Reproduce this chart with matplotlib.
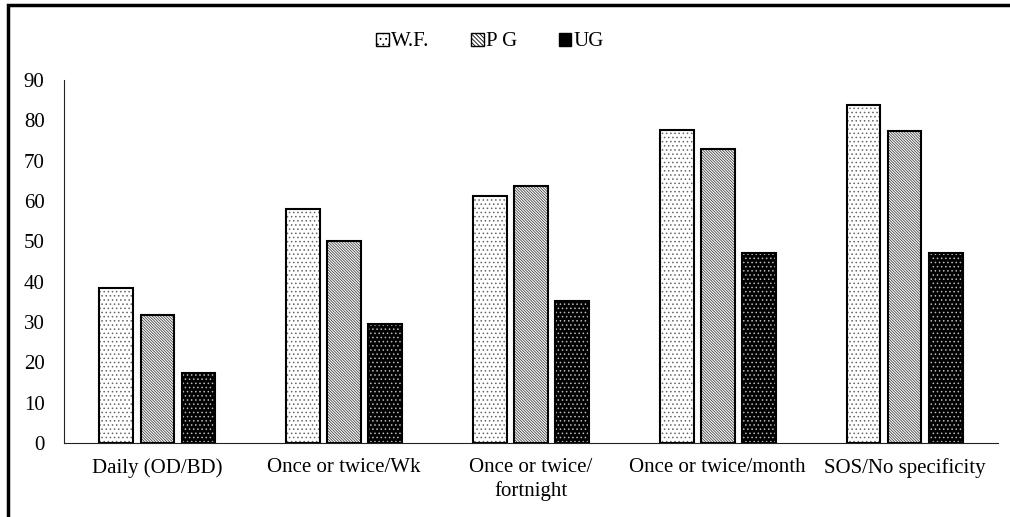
import matplotlib
matplotlib.use("Agg")
import matplotlib.pyplot as plt
import numpy as np
from matplotlib.patches import Rectangle, Patch

categories = ["Daily (OD/BD)", "Once or twice/Wk", "Once or twice/\nfortnight",
              "Once or twice/month", "SOS/No specificity"]
series_names = ["W.F.", "P G", "UG"]
wf = [38.5, 58.0, 61.3, 77.6, 83.8]
pg = [31.8, 50.0, 63.7, 73.0, 77.3]
ug = [17.4, 29.5, 35.2, 47.1, 47.1]
yticks = [0, 10, 20, 30, 40, 50, 60, 70, 80, 90]

plt.rcParams['font.family'] = ['Liberation Serif', 'DejaVu Serif']
plt.rcParams['hatch.linewidth'] = 0.6

fig = plt.figure(figsize=(10.10, 5.17), dpi=100)
ax = fig.add_axes([64/1010, 1-443/517, (998-64)/1010, (443-80)/517])

x = np.arange(len(categories))
w = 0.18
off = 0.22

# W.F. : white with sparse dots
ax.bar(x - off, wf, w, facecolor='white', edgecolor='#666666', hatch='....', linewidth=0)
ax.bar(x - off, wf, w, fill=False, edgecolor='black', linewidth=1.5)
# P G : diagonal lines
ax.bar(x, pg, w, facecolor='white', edgecolor='#444444', hatch='\\' * 12, linewidth=0)
ax.bar(x, pg, w, fill=False, edgecolor='black', linewidth=1.5)
# UG : black with white dots
ax.bar(x + off, ug, w, facecolor='black', edgecolor='#bbbbbb', hatch='....', linewidth=0)
ax.bar(x + off, ug, w, fill=False, edgecolor='black', linewidth=1.5)

ax.set_xlim(-0.5, len(categories) - 0.5)
ax.set_ylim(0, 90)
ax.set_yticks(yticks)
ax.set_xticks(x)
ax.set_xticklabels(categories, fontsize=15, linespacing=1.25)
ax.tick_params(axis='both', length=0, labelsize=15, colors='black')
ax.tick_params(axis='y', pad=14)
ax.tick_params(axis='x', pad=11)
for s in ['top', 'right']:
    ax.spines[s].set_visible(False)
ax.spines['left'].set_linewidth(0.8)
ax.spines['bottom'].set_linewidth(0.8)
ax.spines['left'].set_color('#222222')
ax.spines['bottom'].set_color('#222222')

handles = [
    Patch(facecolor='white', edgecolor='black', hatch='...', linewidth=1.0),
    Patch(facecolor='white', edgecolor='black', hatch='\\' * 8, linewidth=1.0),
    Patch(facecolor='black', edgecolor='black', hatch='', linewidth=1.0),
]
fig.legend(handles, series_names, loc='center', bbox_to_anchor=(490/1010, 1-42/517),
           ncol=3, frameon=False, fontsize=15, handlelength=0.6, handleheight=0.6,
           handletextpad=0.1, columnspacing=2.0)

# figure border
fig.patches.append(Rectangle((8/1010, -0.1), 1.2, 1.1 - 5/517, transform=fig.transFigure,
                             fill=False, edgecolor='black', linewidth=2.5))

fig.savefig("out.png", dpi=100)
